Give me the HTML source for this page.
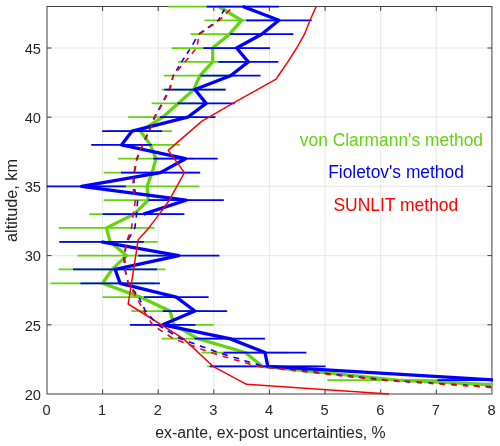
<!DOCTYPE html>
<html><head><meta charset="utf-8"><title>uncertainties</title>
<style>html,body{margin:0;padding:0;background:#fff}body{width:500px;height:446px;overflow:hidden;position:relative}</style></head>
<body>
<svg width="500" height="446" viewBox="0 0 500 446" style="position:absolute;left:0;top:0">
<defs><clipPath id="c"><rect x="46.8" y="5.0" width="446.1" height="390.1"/></clipPath></defs>
<rect width="500" height="446" fill="#fff"/>
<path d="M102.6 6.5V394.0M158.2 6.5V394.0M213.8 6.5V394.0M269.4 6.5V394.0M325.1 6.5V394.0M380.7 6.5V394.0M436.3 6.5V394.0M47.0 324.8H491.9M47.0 255.6H491.9M47.0 186.4H491.9M47.0 117.2H491.9M47.0 48.0H491.9" stroke="#eaeaea" stroke-width="1.2" fill="none"/>
<path d="M102.6 394.0v-4.5M102.6 6.5v4.5M158.2 394.0v-4.5M158.2 6.5v4.5M213.8 394.0v-4.5M213.8 6.5v4.5M269.4 394.0v-4.5M269.4 6.5v4.5M325.1 394.0v-4.5M325.1 6.5v4.5M380.7 394.0v-4.5M380.7 6.5v4.5M436.3 394.0v-4.5M436.3 6.5v4.5M47.0 324.8h4.5M491.9 324.8h-4.5M47.0 255.6h4.5M491.9 255.6h-4.5M47.0 186.4h4.5M491.9 186.4h-4.5M47.0 117.2h4.5M491.9 117.2h-4.5M47.0 48.0h4.5M491.9 48.0h-4.5" stroke="#404040" stroke-width="1" fill="none"/>
<rect x="47.0" y="6.5" width="444.9" height="387.5" fill="none" stroke="#404040" stroke-width="1"/>
<g clip-path="url(#c)">
<path d="M327.3 380.2H467.4M207.2 366.3H317.3M201.6 352.5H288.9M161.6 338.6H233.9M134.3 324.8H213.8M131.3 311.0H208.6M102.6 297.1H177.7M50.3 283.3H154.9M58.7 269.4H165.5M77.6 255.6H175.5M62.6 241.8H157.7M58.7 227.9H154.3M89.3 214.1H178.8M103.7 200.2H192.7M94.8 186.4H199.4M103.7 172.6H200.5M118.2 158.7H193.8M121.0 144.9H179.9M108.7 131.1H172.1M128.2 117.2H197.2M151.6 103.4H204.9M161.6 89.5H226.1M163.8 75.7H236.1M178.2 61.9H247.2M171.6 48.0H253.9M190.5 34.2H268.3M204.4 20.3H278.9M168.2 6.5H269.4" stroke="#64d40f" stroke-width="1.75" fill="none"/>
<polyline points="686.5,394.0 397.4,380.2 262.2,366.3 245.3,352.5 197.7,338.6 174.1,324.8 169.9,311.0 140.2,297.1 102.6,283.3 112.1,269.4 126.5,255.6 110.1,241.8 106.5,227.9 134.0,214.1 148.2,200.2 147.1,186.4 152.1,172.6 156.0,158.7 150.4,144.9 140.4,131.1 162.7,117.2 178.2,103.4 193.8,89.5 199.9,75.7 212.7,61.9 212.7,48.0 229.4,34.2 241.6,20.3 218.8,6.5" stroke="#64d40f" stroke-width="3.3" fill="none" stroke-linejoin="round"/>
<path d="M437.4 380.2H557.5M209.9 366.3H325.6M223.6 352.5H306.4M194.4 338.6H265.0M129.9 324.8H195.5M162.7 311.0H227.2M144.0 297.1H208.6M80.4 283.3H159.9M73.1 269.4H157.1M138.2 255.6H219.4M59.2 241.8H143.8M102.6 214.1H184.4M148.2 200.2H223.8M37.0 186.4H126.0M121.0 172.6H199.9M153.2 158.7H217.7M91.2 144.9H151.8M102.1 131.1H162.1M159.9 117.2H215.5M177.4 103.4H234.7M164.3 89.5H225.5M200.5 75.7H260.6M218.3 61.9H278.3M203.3 48.0H270.0M230.0 34.2H293.4M246.1 20.3H311.7M206.6 6.5H278.9" stroke="#0000ff" stroke-width="1.75" fill="none"/>
<polyline points="881.2,394.0 497.5,380.2 267.8,366.3 265.0,352.5 229.7,338.6 162.7,324.8 194.9,311.0 176.3,297.1 120.1,283.3 115.1,269.4 178.8,255.6 101.5,241.8" stroke="#0000ff" stroke-width="3.3" fill="none" stroke-linejoin="round"/>
<polyline points="143.5,214.1 186.0,200.2 81.5,186.4 160.4,172.6 185.5,158.7 121.5,144.9 132.1,131.1 187.7,117.2 206.1,103.4 194.9,89.5 230.5,75.7 248.3,61.9 236.6,48.0 261.7,34.2 278.9,20.3 242.8,6.5" stroke="#0000ff" stroke-width="3.3" fill="none" stroke-linejoin="round"/>
<polyline points="316.2,6.5 310.0,20.3 304.5,34.2 296.7,48.0 287.8,61.9 278.3,75.7 276.1,79.2 232.7,103.4 201.6,121.4 168.2,150.4 184.4,172.6 169.3,200.2 159.3,214.1 148.8,227.9 138.2,239.7 128.2,304.0 183.3,338.6 213.0,366.3 246.6,384.3 389.0,394.0" stroke="#ff0000" stroke-width="1.5" fill="none" stroke-linejoin="round"/>
<path d="M490.9 386.8L485.5 386.5M479.1 386.0L473.7 385.7M467.2 385.3L462.9 385.0M456.4 384.6L451.0 384.2M444.5 383.8L439.1 383.5M432.7 383.1L428.3 382.8M421.9 382.4L416.5 382.0M410.0 381.6L404.6 381.3M398.1 380.9L393.8 380.6M387.3 380.2L381.8 379.5M376.2 378.9L370.6 378.3M364.4 377.6L358.8 377.0M353.2 376.4L347.7 375.7M341.5 375.0L336.5 374.5M330.3 373.8L324.7 373.2M318.5 372.5L313.6 371.9M307.4 371.2L301.8 370.6M295.6 369.9L290.0 369.3M284.4 368.7L278.8 368.1M272.6 367.4L267.1 366.7M261.3 365.7L256.8 364.3L255.7 364.0M250.0 362.2L245.5 360.9L244.4 360.5M239.0 358.8L234.5 357.5L233.4 357.1M227.7 355.4L223.2 354.0L222.1 353.7M216.6 351.9L212.8 350.5L210.9 349.8M205.4 347.8L201.6 346.4L199.9 345.8M194.5 343.8L190.7 342.4L188.8 341.7M183.3 339.7L179.9 338.3L178.0 337.1M172.9 334.1L170.7 332.7L168.4 331.3L167.7 330.9M162.9 328.0L160.6 326.6L158.4 325.2L157.9 324.9M154.1 320.7L152.8 319.3L151.6 318.0L150.4 316.6L150.1 316.3M146.4 312.1L145.3 310.7L144.6 309.3L144.0 307.9L143.5 307.0M141.2 302.2L140.5 300.8L139.9 299.4L139.2 298.0L139.0 297.7M136.1 293.7L135.1 292.3L134.0 290.9L132.9 289.5L132.9 289.4M129.7 285.2L128.6 283.8L128.0 282.5L127.7 281.1L127.4 280.0M126.1 274.5L125.7 273.1L125.4 271.7L125.1 270.3L124.8 269.0L124.8 268.7M124.3 263.0L124.2 261.6L124.1 260.2L124.0 258.9L123.9 257.5L123.9 257.1M124.7 251.5L125.1 250.1L125.4 248.7L125.7 247.3L126.1 245.9L126.2 245.5M128.1 240.0L128.8 238.7L129.6 237.3L130.4 235.9L131.2 234.5L131.2 234.4M134.2 229.1L134.9 227.7L135.1 226.3L135.2 225.0L135.4 223.6L135.4 223.2M136.1 217.7L136.3 216.3L136.4 214.9L136.6 213.5L136.7 212.2L136.7 211.7M137.2 206.2L137.3 204.8L137.4 203.4L137.5 202.0L137.6 200.7L137.6 200.2M136.1 194.8L135.7 193.4L135.3 192.0L134.9 190.6L134.6 189.2L134.5 188.9M133.9 183.3L133.9 181.9L134.0 180.5L134.0 179.1L134.1 177.8L134.1 177.3M134.5 171.8L134.7 170.4L135.0 169.0L135.3 167.7L135.6 166.3L135.6 165.9M136.7 160.5L137.0 159.1L137.5 157.7L138.1 156.3L138.6 154.9M140.7 149.8L141.2 148.4L141.8 147.0L142.3 145.7L142.8 144.5M145.0 139.6L145.6 138.2L146.2 136.9L146.8 135.5L147.2 134.6M149.3 129.7L149.9 128.4L150.4 127.0L151.0 125.6L151.4 124.5M153.4 119.6L153.9 118.2L154.6 116.8L155.3 115.4L155.9 114.5M158.5 109.8L159.3 108.4L160.1 107.0L160.8 105.7L161.3 104.9M163.8 100.2L164.5 98.8L165.2 97.4L165.9 96.0L166.4 95.2M168.8 90.5L169.5 89.1L169.9 87.7L170.2 86.4L170.6 85.1M172.1 79.9L172.4 78.5L172.8 77.1L173.2 75.8L173.8 74.7M176.3 70.6L177.2 69.2L178.0 67.8L178.8 66.4L178.9 66.3M181.4 62.1L182.3 60.8L183.2 59.4L184.2 58.0L184.2 57.8M187.0 53.7L187.9 52.3L188.8 50.9L189.7 49.5L189.8 49.4M192.7 44.6L193.5 43.2L194.3 41.8L195.0 40.4L195.8 39.0M198.8 34.0L200.8 32.6L202.8 31.2L203.5 30.7M207.9 27.6L209.9 26.2L211.9 24.8L212.6 24.4M217.0 21.2L218.6 19.9L219.3 18.5L219.9 17.4M222.1 13.6L222.8 12.2L223.6 10.9L224.4 9.5" stroke="#0000ff" stroke-width="1.6" fill="none"/>
<path d="M491.6 387.4L486.3 387.1M480.0 386.7L474.7 386.3M468.4 385.9L463.1 385.6M456.8 385.1L451.5 384.8M445.1 384.4L439.8 384.0M433.5 383.6L429.3 383.3M421.9 382.9L417.7 382.6M410.3 382.1L406.0 381.8M399.7 381.4L394.4 381.1M388.1 380.6L382.8 380.3M376.4 379.7L371.4 379.1M365.2 378.4L359.7 377.8M353.5 377.1L348.6 376.6M342.4 375.9L336.8 375.2M330.7 374.6L325.7 374.0M319.6 373.3L314.0 372.7M307.8 372.0L302.3 371.4M296.1 370.7L291.2 370.1M285.0 369.4L279.4 368.8M273.3 368.1L267.7 367.5M262.2 366.9L256.3 366.0M250.7 364.4L246.0 363.0L245.1 362.7M239.5 361.1L234.8 359.7L233.9 359.4M228.3 357.7L223.6 356.4L222.6 356.1M217.0 354.4L212.4 353.0L211.2 352.7M205.8 350.8L202.1 349.4L200.3 348.7M194.7 346.6L190.9 345.2L189.1 344.5M183.7 342.5L179.9 341.1L178.1 340.4M172.7 338.3L170.6 336.9L168.5 335.5L167.6 334.9M162.8 331.7L160.7 330.3L158.6 329.0L157.8 328.4M153.1 325.3L151.8 323.9L151.0 322.5L150.1 321.1L149.7 320.5M146.7 315.7L145.9 314.4L145.0 313.0L144.2 311.6L143.6 310.7M141.0 305.7L140.3 304.3L139.6 302.9L138.8 301.6L138.2 300.4M135.5 295.5L134.7 294.1L133.9 292.7L133.0 291.3L132.4 290.3M129.5 285.5L128.7 284.1L128.1 282.7L127.8 281.3L127.5 280.0M126.3 274.5L125.9 273.1L125.6 271.7L125.3 270.3L125.1 269.0L125.1 268.7M125.0 263.0L125.0 261.6L125.0 260.2L124.9 258.9L124.9 257.5L124.9 257.1M125.4 251.5L125.5 250.1L125.7 248.7L125.9 247.3L126.0 245.9L126.1 245.5M127.2 240.0L127.7 238.7L128.2 237.3L128.7 235.9L129.2 234.5L129.2 234.4M131.1 229.1L131.6 227.7L131.7 226.3L131.9 225.0L132.1 223.6L132.1 223.2M132.8 217.7L132.9 216.3L133.1 214.9L133.3 213.5L133.5 212.2L133.6 211.7M134.5 206.2L134.7 204.8L134.9 203.4L135.1 202.0L135.4 200.7L135.4 200.2M134.3 194.8L134.0 193.4L133.8 192.0L133.5 190.6L133.2 189.2L133.1 188.9M133.0 183.3L133.1 181.9L133.2 180.5L133.4 179.1L133.5 177.8L133.6 177.3M134.2 171.8L134.4 170.4L134.7 169.0L134.9 167.7L135.2 166.3L135.2 165.9M136.2 160.5L136.5 159.1L137.0 157.7L137.6 156.3L138.2 154.9M140.5 149.8L141.1 148.4L141.7 147.0L142.3 145.7L142.9 144.5M145.2 139.6L145.9 138.2L146.5 136.9L147.2 135.5L147.6 134.6M149.9 129.7L150.4 128.4L151.0 127.0L151.5 125.6L152.0 124.5M153.9 119.6L154.5 118.2L155.1 116.8L155.9 115.4L156.4 114.5M159.1 109.8L159.8 108.4L160.6 107.0L161.4 105.7L161.8 104.9M164.3 100.2L165.1 98.8L165.8 97.4L166.5 96.0L166.9 95.2M169.4 90.5L170.0 89.1L170.3 87.7L170.7 86.4L171.0 85.1M172.2 79.9L172.6 78.5L172.9 77.1L173.2 75.8L174.1 74.7M177.6 70.6L178.7 69.2L179.9 67.8L181.1 66.4L181.2 66.3M184.7 62.1L185.9 60.8L187.0 59.4L188.2 58.0L188.3 57.8M191.8 53.7L193.0 52.3L194.1 50.9L195.3 49.5L195.4 49.4M197.3 44.6L197.6 43.2L197.8 41.8L198.1 40.4L198.4 39.0M199.7 34.0L201.7 32.6L203.7 31.2L204.4 30.7M208.9 27.6L210.9 26.2L212.9 24.8L213.6 24.4M218.1 21.2L219.9 19.9L221.3 18.5L222.3 17.4M226.1 13.6L227.5 12.2L228.9 10.9L230.2 9.5" stroke="#ff0000" stroke-width="1.6" fill="none"/>
</g>
<text x="46.6" y="414.9" font-family="Liberation Sans, Arial, sans-serif" font-size="14.67" fill="#262626" text-anchor="middle">0</text>
<text x="102.2" y="414.9" font-family="Liberation Sans, Arial, sans-serif" font-size="14.67" fill="#262626" text-anchor="middle">1</text>
<text x="157.8" y="414.9" font-family="Liberation Sans, Arial, sans-serif" font-size="14.67" fill="#262626" text-anchor="middle">2</text>
<text x="213.4" y="414.9" font-family="Liberation Sans, Arial, sans-serif" font-size="14.67" fill="#262626" text-anchor="middle">3</text>
<text x="269.1" y="414.9" font-family="Liberation Sans, Arial, sans-serif" font-size="14.67" fill="#262626" text-anchor="middle">4</text>
<text x="324.7" y="414.9" font-family="Liberation Sans, Arial, sans-serif" font-size="14.67" fill="#262626" text-anchor="middle">5</text>
<text x="380.3" y="414.9" font-family="Liberation Sans, Arial, sans-serif" font-size="14.67" fill="#262626" text-anchor="middle">6</text>
<text x="435.9" y="414.9" font-family="Liberation Sans, Arial, sans-serif" font-size="14.67" fill="#262626" text-anchor="middle">7</text>
<text x="491.5" y="414.9" font-family="Liberation Sans, Arial, sans-serif" font-size="14.67" fill="#262626" text-anchor="middle">8</text>
<text x="41.0" y="399.8" font-family="Liberation Sans, Arial, sans-serif" font-size="14.67" fill="#262626" text-anchor="end">20</text>
<text x="41.0" y="330.6" font-family="Liberation Sans, Arial, sans-serif" font-size="14.67" fill="#262626" text-anchor="end">25</text>
<text x="41.0" y="261.4" font-family="Liberation Sans, Arial, sans-serif" font-size="14.67" fill="#262626" text-anchor="end">30</text>
<text x="41.0" y="192.2" font-family="Liberation Sans, Arial, sans-serif" font-size="14.67" fill="#262626" text-anchor="end">35</text>
<text x="41.0" y="123.0" font-family="Liberation Sans, Arial, sans-serif" font-size="14.67" fill="#262626" text-anchor="end">40</text>
<text x="41.0" y="53.8" font-family="Liberation Sans, Arial, sans-serif" font-size="14.67" fill="#262626" text-anchor="end">45</text>
<text x="155.3" y="437.7" font-family="Liberation Sans, Arial, sans-serif" font-size="15.8" fill="#262626" textLength="230.4" lengthAdjust="spacingAndGlyphs">ex-ante, ex-post uncertainties, %</text>
<text transform="translate(17.0,242.0) rotate(-90)" font-family="Liberation Sans, Arial, sans-serif" font-size="16.2" fill="#262626" textLength="83.0" lengthAdjust="spacingAndGlyphs">altitude, km</text>
<text x="299.8" y="145.8" font-family="Liberation Sans, Arial, sans-serif" font-size="18" textLength="183.2" lengthAdjust="spacingAndGlyphs" fill="#64d40f">von Clarmann's method</text>
<text x="328.2" y="177.8" font-family="Liberation Sans, Arial, sans-serif" font-size="18" textLength="135.7" lengthAdjust="spacingAndGlyphs" fill="#0000ff">Fioletov's method</text>
<text x="333.4" y="210.6" font-family="Liberation Sans, Arial, sans-serif" font-size="18" textLength="124.9" lengthAdjust="spacingAndGlyphs" fill="#ff0000">SUNLIT method</text>
</svg>
</body></html>
